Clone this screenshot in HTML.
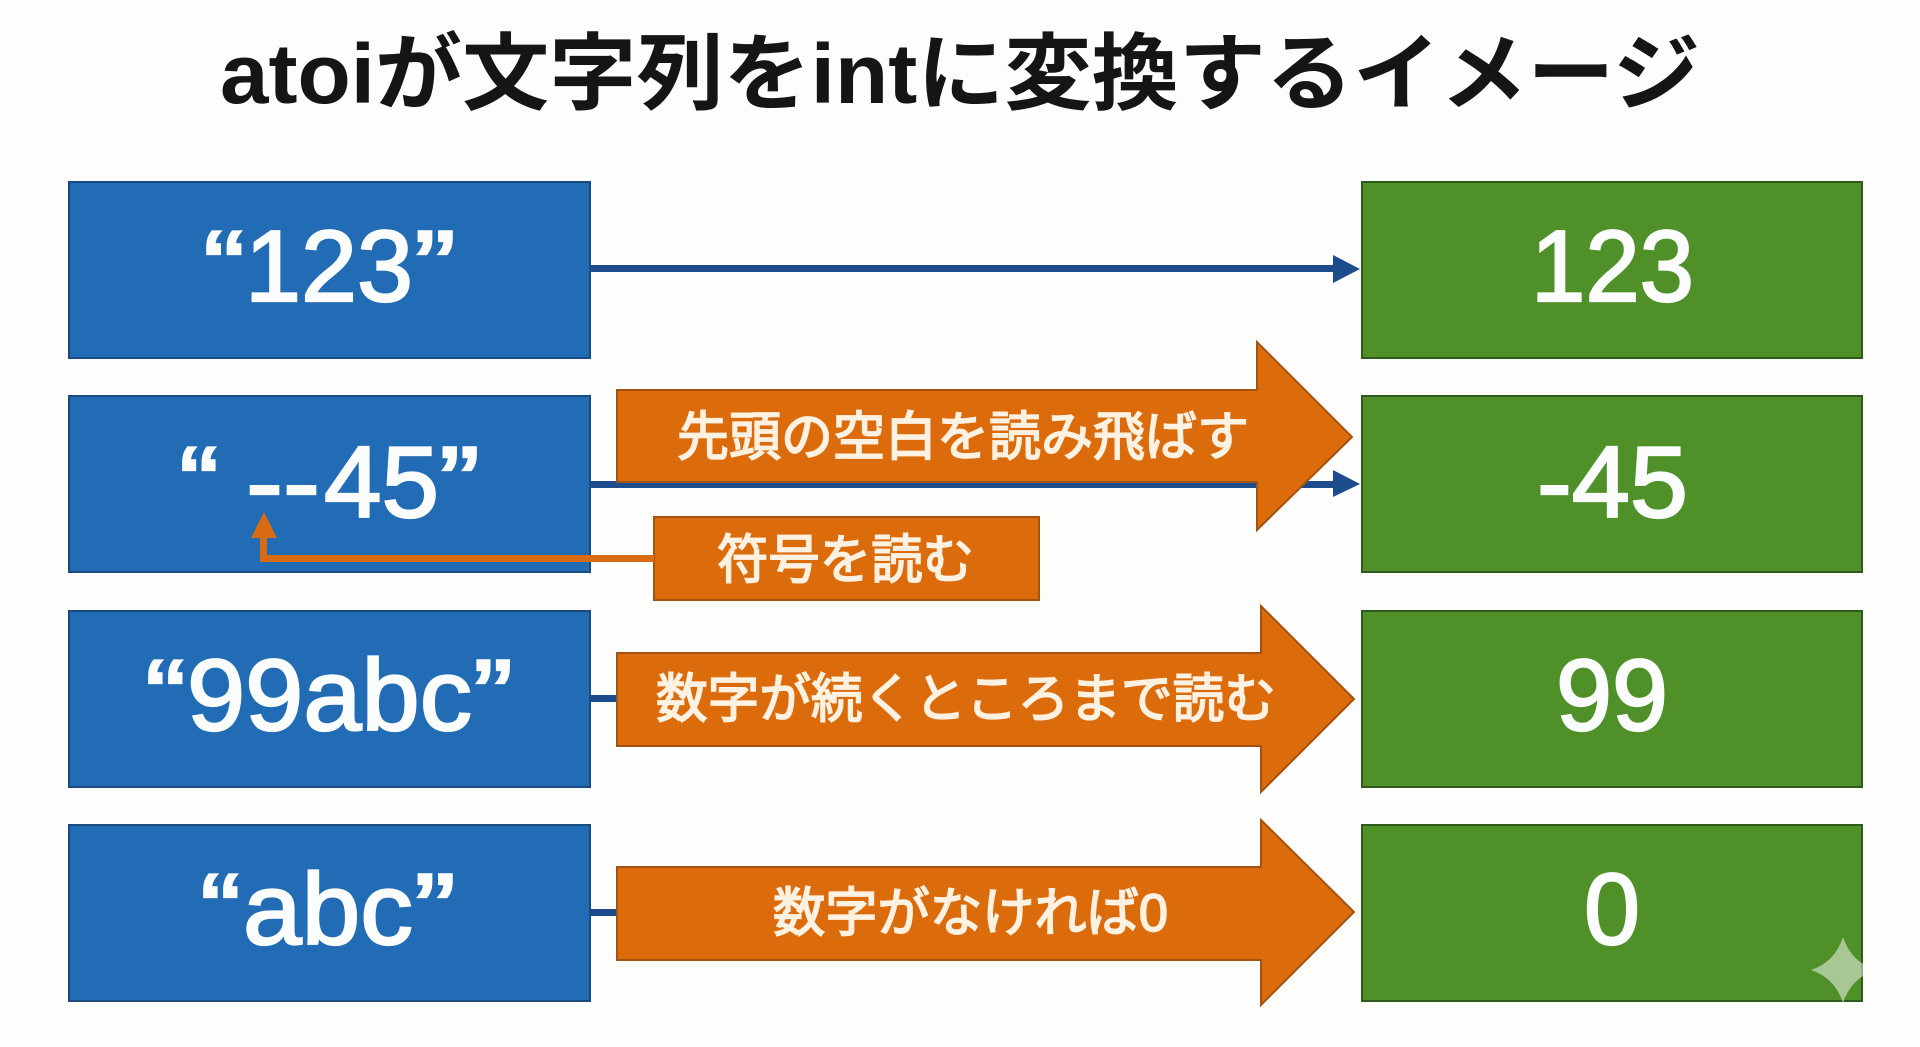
<!DOCTYPE html>
<html lang="ja"><head><meta charset="utf-8"><title>atoi</title>
<style>
html,body{margin:0;padding:0;background:#fdfdfc;width:1920px;height:1047px;overflow:hidden}
svg{display:block}
text{font-family:"Liberation Sans","Noto Sans CJK JP",sans-serif}
.t{font-size:101px;fill:#fbfdfc;stroke:#fbfdfc;stroke-width:2.2px}
.o{font-size:53px;font-weight:400;fill:#fdf1e2;stroke:#fdf1e2;stroke-width:1.7px}
.b{fill:#226bb5;stroke:#1b4a80;stroke-width:2}
.g{fill:#4f9128;stroke:#2f5c1c;stroke-width:2}
.a{fill:#dc6b0c;stroke:#a4520f;stroke-width:2}
</style></head><body>
<svg width="1920" height="1047" viewBox="0 0 1920 1047" xmlns="http://www.w3.org/2000/svg">
<rect width="1920" height="1047" fill="#fdfdfc"/>
<text x="220" y="103" font-size="84" font-weight="700" fill="#151515" textLength="1480" lengthAdjust="spacingAndGlyphs">atoiが文字列をintに変換するイメージ</text>

<rect class="b" x="69" y="182" width="521" height="176"/>
<rect class="b" x="69" y="396" width="521" height="176"/>
<rect class="b" x="69" y="611" width="521" height="176"/>
<rect class="b" x="69" y="825" width="521" height="176"/>
<rect class="g" x="1362" y="182" width="500" height="176"/>
<rect class="g" x="1362" y="396" width="500" height="176"/>
<rect class="g" x="1362" y="611" width="500" height="176"/>
<rect class="g" x="1362" y="825" width="500" height="176"/>

<g fill="#1d4c8c">
<rect x="591" y="265" width="745" height="7"/>
<path d="M1333 255L1360 269L1333 283Z"/>
<rect x="591" y="481" width="745" height="7"/>
<path d="M1333 470L1360 484L1333 497Z"/>
<rect x="591" y="695" width="30" height="7"/>
<rect x="591" y="909" width="30" height="7"/>
</g>

<path class="a" d="M617 390H1257V342L1352 437L1257 530V482H617Z"/>
<path class="a" d="M617 653H1261V606L1354 699L1261 792V746H617Z"/>
<path class="a" d="M617 867H1261V820L1354 912L1261 1005V960H617Z"/>
<rect class="a" x="654" y="517" width="385" height="83"/>
<path fill="#d96c12" d="M654 555H267V538H277L264 512L251 538H260V562H654Z"/>

<text class="t" x="203" y="301" textLength="42" lengthAdjust="spacingAndGlyphs">“</text>
<text class="t" x="245" y="301" textLength="168" lengthAdjust="spacingAndGlyphs">123</text>
<text class="t" x="414" y="301" textLength="42" lengthAdjust="spacingAndGlyphs">”</text>

<text class="t" x="179" y="517" textLength="40" lengthAdjust="spacingAndGlyphs">“</text>
<text class="t" x="246" y="517" textLength="74" lengthAdjust="spacingAndGlyphs">--</text>
<text class="t" x="324" y="517" textLength="115" lengthAdjust="spacingAndGlyphs">45</text>
<text class="t" x="439" y="517" textLength="41" lengthAdjust="spacingAndGlyphs">”</text>

<text class="t" x="145" y="730" textLength="41" lengthAdjust="spacingAndGlyphs">“</text>
<text class="t" x="187" y="730" textLength="285" lengthAdjust="spacingAndGlyphs">99abc</text>
<text class="t" x="473" y="730" textLength="40" lengthAdjust="spacingAndGlyphs">”</text>

<text class="t" x="200" y="944" textLength="41" lengthAdjust="spacingAndGlyphs">“</text>
<text class="t" x="243" y="944" textLength="170" lengthAdjust="spacingAndGlyphs">abc</text>
<text class="t" x="414" y="944" textLength="42" lengthAdjust="spacingAndGlyphs">”</text>

<text class="t" x="1531" y="301" textLength="163" lengthAdjust="spacingAndGlyphs">123</text>
<text class="t" x="1537" y="517" textLength="151" lengthAdjust="spacingAndGlyphs">-45</text>
<text class="t" x="1556" y="730" textLength="112" lengthAdjust="spacingAndGlyphs">99</text>
<text class="t" x="1584" y="944" textLength="56" lengthAdjust="spacingAndGlyphs">0</text>

<text class="o" x="677" y="455" textLength="572" lengthAdjust="spacingAndGlyphs">先頭の空白を読み飛ばす</text>
<text class="o" x="717" y="578" textLength="257" lengthAdjust="spacingAndGlyphs">符号を読む</text>
<text class="o" x="656" y="717" textLength="620" lengthAdjust="spacingAndGlyphs">数字が続くところまで読む</text>
<text class="o" x="773" y="931" textLength="395" lengthAdjust="spacingAndGlyphs">数字がなければ0</text>

<path fill="#fff" fill-opacity=".5" d="M1843 937Q1851 962 1876 970Q1851 978 1843 1003Q1835 978 1811 970Q1835 962 1843 937Z"/>
</svg>
</body></html>
